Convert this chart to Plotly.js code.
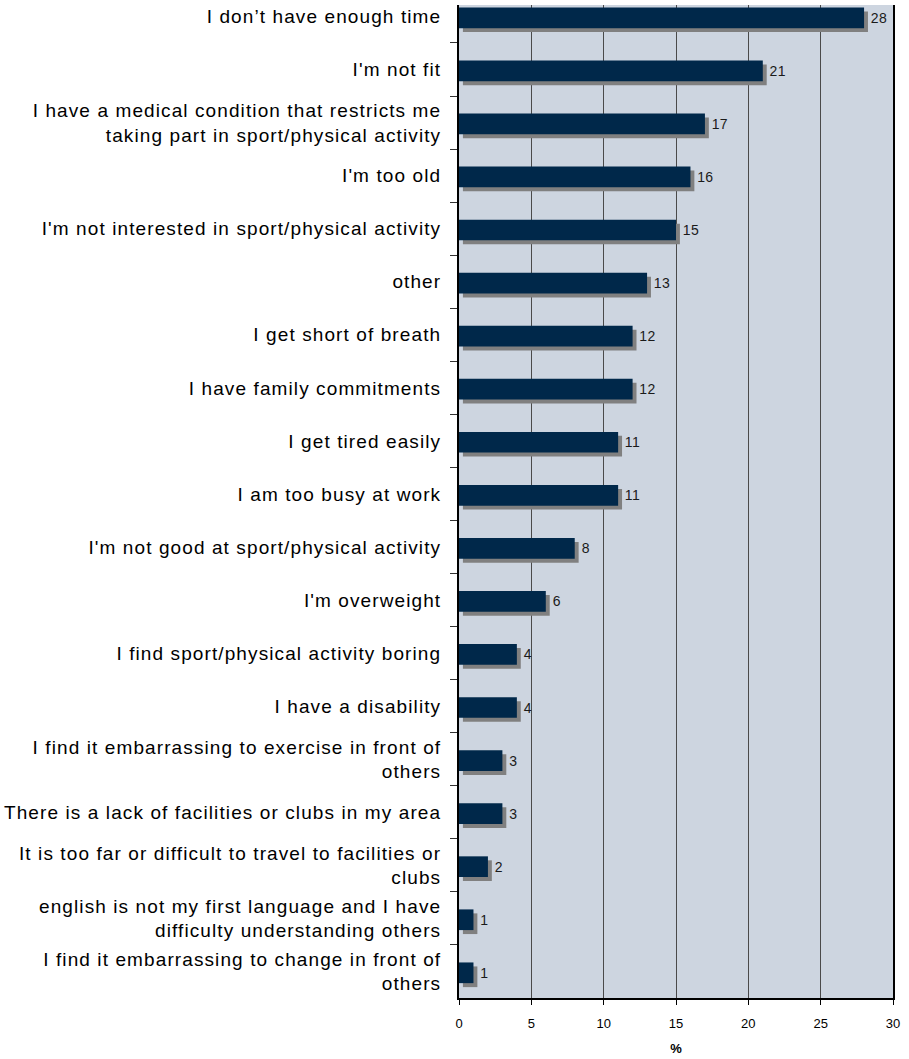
<!DOCTYPE html>
<html>
<head>
<meta charset="utf-8">
<script src="https://cdn.plot.ly/plotly-3.0.1.min.js"></script>
<style>
html,body{margin:0;padding:0;background:#fff;}
#chart{width:909px;height:1059px;}
#chart .ytick text{letter-spacing:1.1px;}
#chart text.bartext{letter-spacing:0.4px;}
</style>
</head>
<body>
<div id="chart"></div>
<script>
const categories = [
  "I don’t have enough time",
  "I'm not fit",
  "I have a medical condition that restricts me<br>taking part in sport/physical activity",
  "I'm too old",
  "I'm not interested in sport/physical activity",
  "other",
  "I get short of breath",
  "I have family commitments",
  "I get tired easily",
  "I am too busy at work",
  "I'm not good at sport/physical activity",
  "I'm overweight",
  "I find sport/physical activity boring",
  "I have a disability",
  "I find it embarrassing to exercise in front of<br>others",
  "There is a lack of facilities or clubs in my area",
  "It is too far or difficult to travel to facilities or<br>clubs",
  "english is not my first language and I have<br>difficulty understanding others",
  "I find it embarrassing to change in front of<br>others"
];
const values = [28, 21, 17, 16, 15, 13, 12, 12, 11, 11, 8, 6, 4, 4, 3, 3, 2, 1, 1];
const xTicks = [0, 5, 10, 15, 20, 25, 30];

const shadow = {
  type: 'bar', orientation: 'h',
  y: categories, x: values,
  base: 0.27,
  width: 0.39, offset: -0.195 + 0.1,
  marker: {color: '#808080', line: {width: 0}},
  hoverinfo: 'skip', showlegend: false
};
const main = {
  type: 'bar', orientation: 'h',
  y: categories, x: values,
  width: 0.39, offset: -0.195 + 0.025,
  marker: {color: '#00284a', line: {width: 0}},
  text: values.map(v => '\u00a0' + v), textposition: 'outside',
  textfont: {family: 'Liberation Sans, Arial, sans-serif', size: 14, color: '#1a1a1a'},
  cliponaxis: false, showlegend: false
};

const layout = {
  width: 909, height: 1059,
  margin: {l: 459, r: 16, t: 5, b: 61},
  paper_bgcolor: '#ffffff', plot_bgcolor: '#cdd5e0',
  barmode: 'overlay',
  font: {family: 'Liberation Sans, Arial, sans-serif', color: '#000'},
  xaxis: {
    range: [0, 30], tickvals: xTicks, ticktext: xTicks.map(String),
    showgrid: true, gridcolor: '#4a4a4a', gridwidth: 1,
    showline: true, linecolor: '#000', linewidth: 2,
    ticks: 'outside', ticklen: 5, tickcolor: '#000', tickwidth: 1,
    ticklabelstandoff: 7,
    tickfont: {size: 13, color: '#000'}, zeroline: false,
    title: {text: '<b>%</b>', font: {size: 13}, standoff: 14}
  },
  yaxis: {
    type: 'category', range: [18.5, -0.216],
    tickson: 'boundaries', ticks: 'outside', ticklen: 7, tickcolor: '#333', tickwidth: 1,
    ticklabelstandoff: 12,
    showline: true, linecolor: '#000', linewidth: 2, mirror: true,
    showgrid: false, zeroline: false,
    tickfont: {size: 19, color: '#000'}
  }
};
Plotly.newPlot('chart', [shadow, main], layout, {displayModeBar: false, staticPlot: true});
</script>
</body>
</html>
